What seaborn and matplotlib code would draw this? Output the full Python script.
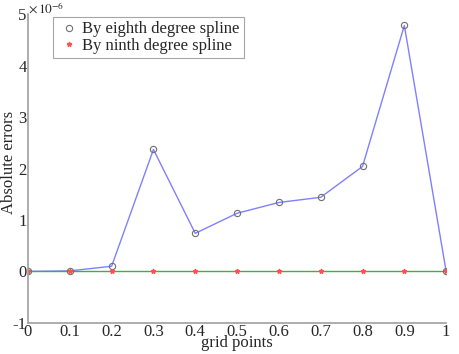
import matplotlib
matplotlib.use("Agg")
import matplotlib.pyplot as plt
import seaborn as sns
import pandas as pd
import numpy as np

grid_points = [0, 0.1, 0.2, 0.3, 0.4, 0.5, 0.6, 0.7, 0.8, 0.9, 1.0]
eighth_errors = [0, 0.01, 0.1, 2.37, 0.74, 1.13, 1.34, 1.44, 2.04, 4.78, 0]  # x 1e-6
ninth_errors = [0, 0, 0, 0, 0, 0, 0, 0, 0, 0, 0]
x_tick_labels = ["0", "0.1", "0.2", "0.3", "0.4", "0.5", "0.6", "0.7", "0.8", "0.9", "1"]
y_ticks = [-1, 0, 1, 2, 3, 4, 5]

sns.set_style("white")
plt.rcParams['font.family'] = ['Liberation Serif', 'DejaVu Serif']
plt.rcParams['mathtext.fontset'] = 'stix'

df8 = pd.DataFrame({"x": grid_points, "y": eighth_errors})
df9 = pd.DataFrame({"x": grid_points, "y": ninth_errors})

fig = plt.figure(figsize=(4.59, 3.54), dpi=100)
ax = fig.add_axes([0.061, 0.088, 0.911, 0.872])

sns.lineplot(data=df8, x="x", y="y", ax=ax, color="#8080ff", lw=1.0, marker=None, legend=False)
sns.lineplot(data=df9, x="x", y="y", ax=ax, color="#3cb043", lw=1.0, marker=None, legend=False)
ax.plot(grid_points, eighth_errors, ls="none", marker="o", ms=4.5, mfc="none", mec="#707070", mew=0.8,
        label="By eighth degree spline")
ax.plot(grid_points, ninth_errors, ls="none", marker="*", ms=3.5, color="#ff5050", mec="#ff5050",
        label="By ninth degree spline")

ax.set_xlim(0, 1)
ax.set_ylim(-1, 5)
ax.set_xticks(grid_points)
ax.set_xticklabels(x_tick_labels)
ax.set_yticks(y_ticks)
ax.set_yticklabels([str(v) for v in y_ticks])
ax.tick_params(direction="in", length=2, width=0.6, color="#909090", labelsize=12, pad=1)
for s in ["top", "right"]:
    ax.spines[s].set_visible(False)
for s in ["left", "bottom"]:
    ax.spines[s].set_color("#a0a0a0")
    ax.spines[s].set_linewidth(1.2)

ax.set_xlabel("grid points", fontsize=12, labelpad=-4)
ax.set_ylabel("Absolute errors", fontsize=12)
ax.yaxis.set_label_coords(-0.027, 0.52)
ax.text(0.0, 0.993, r"$\times\,10^{-6}$", transform=ax.transAxes, fontsize=9.5, ha="left", va="bottom")

leg = ax.legend(loc="upper left", bbox_to_anchor=(0.06, 0.99), fontsize=12, frameon=True,
                fancybox=False, edgecolor="#909090", handlelength=1.4, handletextpad=0.1,
                borderpad=0.25, labelspacing=0.05, borderaxespad=0)
leg.get_frame().set_linewidth(0.8)

fig.savefig("out.png", dpi=100)
